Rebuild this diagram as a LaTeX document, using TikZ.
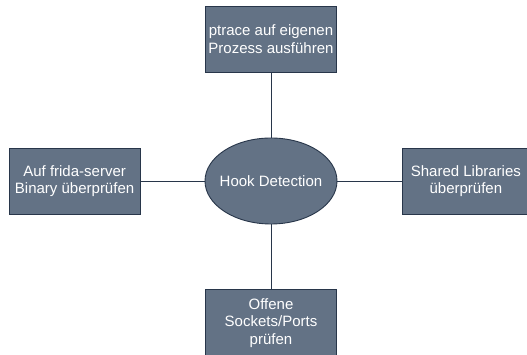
\documentclass[tikz,border=0pt]{standalone}
\usepackage{fontspec}
\setmainfont{Liberation Sans}
\usetikzlibrary{positioning,shapes.geometric}
\definecolor{slatefill}{RGB}{99,114,133}
\definecolor{slateline}{RGB}{40,54,74}
\tikzset{
  hub/.style={ellipse, draw=slateline, fill=slatefill, line width=0.9pt, text=white,
              minimum width=132pt, minimum height=86pt, inner xsep=-6pt, inner ysep=0pt,
              font=\fontsize{15}{18}\selectfont},
  task/.style={rectangle, draw=slateline, fill=slatefill, line width=0.9pt, text=white,
               minimum width=131pt, minimum height=66pt, inner sep=0pt,
               align=center, font=\fontsize{15}{17.5}\selectfont},
  link/.style={draw=slateline, line width=0.9pt},
}

\begin{document}
\begin{tikzpicture}[x=1pt, y=1pt, node distance=65pt]
    \useasboundingbox (0,0) rectangle (527,355);
    \node[hub] (hook) at (271,174) {Hook Detection};
    \node[task, above=of hook] (ptrace) {ptrace auf eigenen\\Prozess ausführen};
    \node[task, left=64pt of hook] (frida) {Auf frida-server\\Binary überprüfen};
    \node[task, right=of hook, minimum width=126pt] (libs) {Shared Libraries\\überprüfen};
    \node[task, below=of hook] (ports) {Offene\\Sockets/Ports\\prüfen};
    % connectors
    \draw[link] (hook) -- (ptrace);
    \draw[link] (hook) -- (frida);
    \draw[link] (hook) -- (libs);
    \draw[link] (hook) -- (ports);
\end{tikzpicture}
\end{document}
